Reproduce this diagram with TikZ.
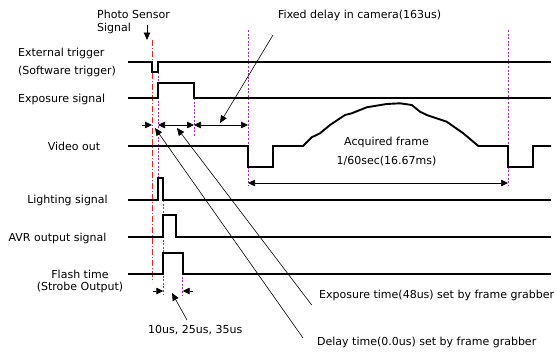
\documentclass[tikz,border=0pt]{standalone}
\usepackage{fontspec}
\setmainfont{DejaVu Sans}
\usepackage{xcolor}
\usepackage{tikz}
\usetikzlibrary{arrows.meta,positioning}
\definecolor{guide}{RGB}{170,40,190}
\definecolor{sensor}{RGB}{235,35,35}
\tikzset{
  sig/.style={draw=black, line width=1.9pt, line join=miter},
  guideline/.style={draw=guide, line width=0.8pt, dash pattern=on 2pt off 1.6pt},
  sensorline/.style={draw=sensor, line width=0.9pt, dash pattern=on 6pt off 2pt on 1pt off 2pt},
  dim/.style={draw=black, line width=0.7pt, {Triangle[length=7pt,width=6.5pt]}-{Triangle[length=7pt,width=6.5pt]}},
  dimone/.style={draw=black, line width=0.7pt, -{Triangle[length=7pt,width=6.5pt]}},
  pointer/.style={draw=black, line width=0.6pt, -{Triangle[length=7.5pt,width=6.5pt]}},
  lbl/.style={font=\fontsize{11}{13}\selectfont, inner sep=0pt}
}

\begin{document}
\begin{tikzpicture}[x=1pt, y=-1pt]
    \useasboundingbox (0,0) rectangle (557,351);

    % signal names
    \node[lbl, anchor=west, align=left] (sensor) at (97,21.5) {Photo Sensor\\Signal};
    \node[lbl, anchor=west] (ext) at (18,53) {External trigger};
    \node[lbl, anchor=west] (soft) at (18,71) {(Software trigger)};
    \node[lbl, anchor=west] (expo) at (18,99) {Exposure signal};
    \node[lbl] (video) at (74,146) {Video out};
    \node[lbl] (light) at (67.5,200) {Lighting signal};
    \node[lbl] (avr) at (57.5,238) {AVR output signal};
    \node[lbl, align=center, font=\fontsize{11}{12}\selectfont] (flash) at (80,281) {Flash time\\(Strobe Output)};

    % guides
    \draw[sensorline] (152,40) -- (152,282);
    \draw[guideline] (158,72) -- (158,178);
    \draw[guideline] (163.3,200) -- (163.3,295);
    \draw[guideline] (182.7,273) -- (182.7,295);
    \draw[guideline] (194,98) -- (194,137);
    \draw[guideline] (248,30) -- (248,185);
    \draw[guideline] (508,30) -- (508,185);

    % signals
    \draw[sig] (128,62) -- (152,62) -- (152,72) -- (158,72) -- (158,62) -- (551,62);
    \draw[sig] (128,98) -- (158,98) -- (158,83) -- (194,83) -- (194,98) -- (551,98);
    \draw[sig] (128,146) -- (248,146) -- (248,167) -- (273,167) -- (273,146) -- (303,146)
      -- (311.7,137.3) -- (320,133.3) -- (330,125) -- (345,115) -- (351.7,113.3)
      -- (366.7,107.3) -- (386.7,104) -- (400,103.3) -- (411.7,105) -- (420,111.7)
      -- (426.7,115) -- (446.7,121.7) -- (463.3,133.3) -- (478.3,146) -- (508,146)
      -- (508,167) -- (533,167) -- (533,146) -- (551,146);
    \draw[sig] (128,200) -- (157.7,200) -- (157.7,178) -- (163.3,178) -- (163.3,200) -- (551,200);
    \draw[sig] (128,237) -- (163.3,237) -- (163.3,215) -- (176,215) -- (176,237) -- (551,237);
    \draw[sig] (128,274) -- (163.3,274) -- (163.3,253) -- (182.7,253) -- (182.7,274) -- (551,274);

    % time marks
    \coordinate (t0) at (142,125);
    \coordinate (t1) at (152,125);
    \coordinate (t2) at (158,125);
    \coordinate (t3) at (194,125);
    \coordinate (t4) at (248,125);
    \draw[dimone] (t0) -- (t1);
    \draw[dim] (t2) -- (t3);
    \draw[dim] (t3) -- (t4);
    \coordinate (f0) at (248,183);
    \coordinate (f1) at (508,183);
    \draw[dim] (f0) -- (f1);
    \coordinate (s0) at (153,291);
    \coordinate (s1) at (163.3,291);
    \coordinate (s2) at (193,291);
    \coordinate (s3) at (182.7,291);
    \draw[dimone] (s0) -- (s1);
    \draw[dimone] (s2) -- (s3);

    % notes
    \node[lbl, anchor=west] (fixed) at (278,15) {Fixed delay in camera(163us)};
    \node[lbl, align=center, font=\fontsize{11}{19}\selectfont] (frame) at (386.5,152) {Acquired frame\\1/60sec(16.67ms)};
    \node[lbl, anchor=west] (exptime) at (319,295) {Exposure time(48us) set by frame grabber};
    \node[lbl, anchor=west] (delay) at (317,342) {Delay time(0.0us) set by frame grabber};
    \node[lbl, anchor=west] (strobe) at (148,330) {10us, 25us, 35us};

    \coordinate (p0) at (147,25);
    \coordinate (p1) at (147,40);
    \draw[pointer, line width=0.9pt] (p0) -- (p1);
    \coordinate (fd0) at (273,35);
    \coordinate (fd1) at (220,123);
    \draw[pointer] (fd0) -- (fd1);
    \coordinate (et0) at (311.7,305);
    \coordinate (et1) at (177,128);
    \draw[pointer] (et0) -- (et1);
    \coordinate (dt0) at (303,338);
    \coordinate (dt1) at (155,128);
    \draw[pointer] (dt0) -- (dt1);
    \coordinate (st0) at (187,320);
    \coordinate (st1) at (172,293);
    \draw[pointer] (st0) -- (st1);
\end{tikzpicture}
\end{document}
